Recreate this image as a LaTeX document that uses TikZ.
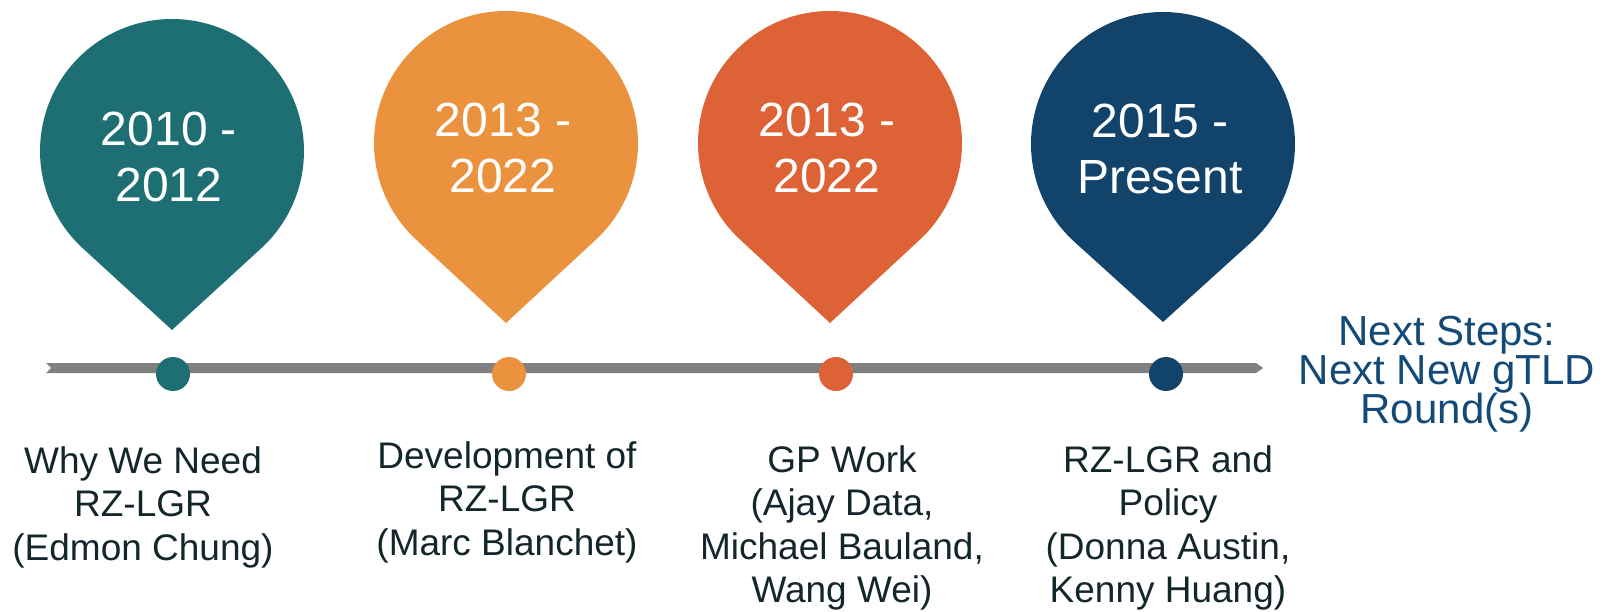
\documentclass[tikz,border=0pt]{standalone}
\usepackage{fontspec}
\setmainfont{Liberation Sans}
\definecolor{cteal}{HTML}{1E6F73}
\definecolor{corange}{HTML}{EA923E}
\definecolor{cred}{HTML}{DD6337}
\definecolor{cnavy}{HTML}{11436B}
\definecolor{cnext}{HTML}{134A77}
\definecolor{ctext}{HTML}{13262A}
\definecolor{cline}{HTML}{808080}
\newcommand{\pinfont}{\fontsize{48}{56}\selectfont\lineskiplimit-60pt\relax}
\newcommand{\lblfont}{\fontsize{37}{43.5}\selectfont\lineskiplimit-60pt\relax}
\newcommand{\nsfont}{\fontsize{42}{39}\selectfont\lineskiplimit-60pt\relax}
\newcommand{\tlpin}[4]{%
  \pgfmathsetmacro{\pinphi}{acos(132/(#3-#2))}%
  \fill[#4] (#1,-#2) ++(-90+\pinphi:132) arc[start angle=-90+\pinphi, end angle=270-\pinphi, radius=132] -- (#1,-#3) -- cycle;%
}
\begin{document}
\begin{tikzpicture}[x=1pt,y=1pt,
  pintext/.style={text=white, font=\pinfont, align=center, anchor=north, inner sep=0pt},
  lbl/.style={text=ctext, font=\lblfont, align=center, anchor=north, inner sep=0pt},
  nstext/.style={text=cnext, font=\nsfont, align=center, anchor=north, inner sep=0pt},
  dot/.style={circle, inner sep=0pt, minimum size=34pt}]
\useasboundingbox (0,0) rectangle (1604,-612);
% pins
\tlpin{172}{151}{330}{cteal}
\tlpin{506}{143}{323}{corange}
\tlpin{830}{143}{323}{cred}
\tlpin{1163}{144}{322}{cnavy}
% timeline
\fill[cline] (46,-363) -- (1256,-363) -- (1263,-368) -- (1256,-373) -- (46,-373) -- (51,-368) -- cycle;
% dots
\node[dot, fill=cteal] (d1) at (173,-374) {};
\node[dot, fill=corange] (d2) at (509,-374) {};
\node[dot, fill=cred] (d3) at (836,-374) {};
\node[dot, fill=cnavy] (d4) at (1166,-374) {};
% pin texts
\node[pintext] (p1) at (169,-100) {\rule{0pt}{45pt}2010 -\\2012};
\node[pintext] (p2) at (503,-91) {\rule{0pt}{45pt}2013 -\\2022};
\node[pintext] (p3) at (827,-91) {\rule{0pt}{45pt}2013 -\\2022};
\node[pintext] (p4) at (1160,-92) {\rule{0pt}{45pt}2015 -\\Present};
% labels
\node[lbl] (l1) at (143,-438) {\rule{0pt}{35pt}Why We Need\\RZ-LGR\\(Edmon Chung)};
\node[lbl] (l2) at (507,-433) {\rule{0pt}{35pt}Development of\\RZ-LGR\\(Marc Blanchet)};
\node[lbl] (l3) at (842,-437) {\rule{0pt}{35pt}GP Work\\(Ajay Data,\\Michael Bauland,\\Wang Wei)};
\node[lbl] (l4) at (1168,-437) {\rule{0pt}{35pt}RZ-LGR and\\Policy\\(Donna Austin,\\Kenny Huang)};
\node[nstext] (ns) at (1447,-310) {\rule{0pt}{35pt}Next Steps:\\Next New gTLD\\Round(s)};
\end{tikzpicture}
\end{document}
